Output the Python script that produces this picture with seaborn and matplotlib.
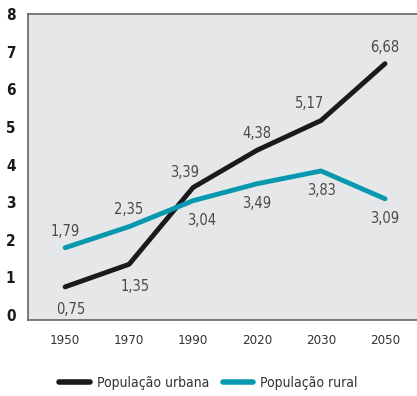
import matplotlib
matplotlib.use("Agg")
import matplotlib.pyplot as plt
import seaborn as sns
import pandas as pd

years = ["1950", "1970", "1990", "2020", "2030", "2050"]
urbana = [0.75, 1.35, 3.39, 4.38, 5.17, 6.68]
rural = [1.79, 2.35, 3.04, 3.49, 3.83, 3.09]
series_names = ["População urbana", "População rural"]
yticks = [0, 1, 2, 3, 4, 5, 6, 7, 8]

sns.set_theme(style="white")
plt.rcParams["font.family"] = ["DejaVu Sans"]
plt.rcParams["font.stretch"] = "condensed"

df = pd.DataFrame({
    "ano": years * 2,
    "valor": urbana + rural,
    "serie": [series_names[0]] * len(years) + [series_names[1]] * len(years),
})

fig = plt.figure(figsize=(4.17, 3.96), dpi=100)
ax = fig.add_axes([28 / 417, 1 - 320 / 396, 1 - 28 / 417, (320 - 14) / 396])
ax.set_facecolor("#e6e7e8")

palette = {series_names[0]: "#1a1a1a", series_names[1]: "#0899b0"}
sns.lineplot(data=df, x="ano", y="valor", hue="serie", palette=palette,
             linewidth=3.5, ax=ax, legend=False, sort=False)

ax.set_xlim(-0.58, 5.5)
ax.set_ylim(-0.13, 8)
ax.set_yticks(yticks)
ax.set_yticklabels([str(v) for v in yticks], fontsize=11, fontweight="bold", color="#1a1a1a")
ax.set_xticks(range(len(years)))
ax.set_xticklabels(years, fontsize=9.5, color="#333333")
ax.tick_params(axis="y", length=0, pad=9)
ax.tick_params(axis="x", length=0, pad=10)
ax.set_xlabel("")
ax.set_ylabel("")
for side in ["top", "left", "bottom"]:
    ax.spines[side].set_color("#666666")
    ax.spines[side].set_linewidth(1.2)
ax.spines["right"].set_visible(False)

def fmt(v):
    return f"{v:.2f}".replace(".", ",")

# value labels: (dx, dy) offsets in points
urb_off = [(4, -16), (4, -16), (-6, 11), (0, 12), (-8, 12), (0, 12)]
rur_off = [(0, 12), (0, 12), (6, -14), (0, -14), (0, -14), (0, -14)]
for i, (v, off) in enumerate(zip(urbana, urb_off)):
    ax.annotate(fmt(v), (i, v), xytext=off, textcoords="offset points",
                ha="center", va="center", fontsize=10.5, color="#4a4a4a")
for i, (v, off) in enumerate(zip(rural, rur_off)):
    ax.annotate(fmt(v), (i, v), xytext=off, textcoords="offset points",
                ha="center", va="center", fontsize=10.5, color="#4a4a4a")

handles = [plt.Line2D([], [], color=palette[n], linewidth=4) for n in series_names]
fig.legend(handles, series_names, loc="center", bbox_to_anchor=(0.5, 1 - 383 / 396),
           ncol=2, frameon=False, fontsize=10, handlelength=2.2, columnspacing=1.0,
           handletextpad=0.5, labelcolor="#333333")

fig.savefig("out.png", dpi=100)
